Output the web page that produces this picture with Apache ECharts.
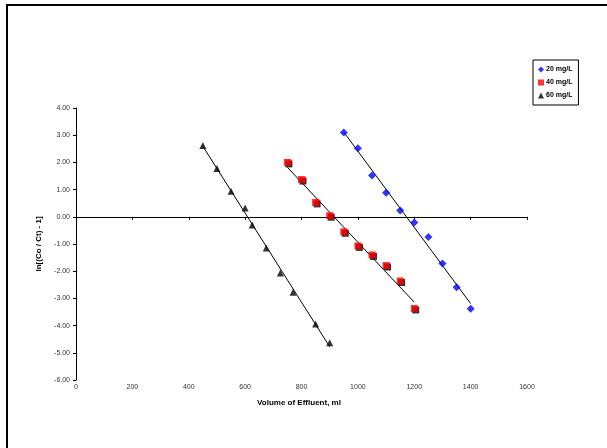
<!DOCTYPE html>
<html>
<head>
<meta charset="utf-8">
<script src="https://cdn.jsdelivr.net/npm/echarts@6/dist/echarts.min.js"></script>
<style>
  html, body { margin: 0; padding: 0; background: #fff; }
  #chart { width: 607px; height: 448px; }
</style>
</head>
<body>
<div id="chart"></div>
<script>
// values
var xTicks = [0, 200, 400, 600, 800, 1000, 1200, 1400, 1600];
var yTicks = [-6, -5, -4, -3, -2, -1, 0, 1, 2, 3, 4];

var vol20 = [950, 1000, 1050, 1100, 1150, 1200, 1250, 1300, 1350, 1400];
var ln20 = [3.10, 2.52, 1.52, 0.88, 0.23, -0.21, -0.74, -1.72, -2.59, -3.38];

var vol40 = [750, 800, 850, 900, 950, 1000, 1050, 1100, 1150, 1200];
var ln40 = [2.00, 1.37, 0.53, 0.04, -0.55, -1.07, -1.40, -1.79, -2.36, -3.37];

var vol60 = [450, 500, 550, 600, 625, 675, 725, 770, 850, 900];
var ln60 = [2.62, 1.78, 0.94, 0.32, -0.30, -1.15, -2.07, -2.77, -3.94, -4.63];

function pairs(xs, ys) {
  return xs.map(function (x, i) { return [x, ys[i]]; });
}

// least squares trend line, drawn over the data's x range (like Excel)
function trend(xs, ys) {
  var n = xs.length, sx = 0, sy = 0, sxx = 0, sxy = 0;
  for (var i = 0; i < n; i++) {
    sx += xs[i]; sy += ys[i]; sxx += xs[i] * xs[i]; sxy += xs[i] * ys[i];
  }
  var b = (n * sxy - sx * sy) / (n * sxx - sx * sx);
  var a = (sy - b * sx) / n;
  var x0 = Math.min.apply(null, xs), x1 = Math.max.apply(null, xs);
  return [[x0, a + b * x0], [x1, a + b * x1]];
}

var fontFam = 'Liberation Sans, Arial, sans-serif';

function trendSeries(xs, ys) {
  return {
    type: 'line',
    data: trend(xs, ys),
    symbol: 'none',
    silent: true,
    lineStyle: { color: '#000', width: 1 },
    z: 1
  };
}

var chart = echarts.init(document.getElementById('chart'));
var option = {
  animation: false,
  grid: { left: 76, top: 108, width: 451, height: 272 },
  legend: {
    data: ['20 mg/L', '40 mg/L', '60 mg/L'],
    orient: 'vertical',
    left: 533,
    top: 60,
    padding: [6, 6, 6, 5],
    itemGap: 6,
    itemWidth: 6,
    itemHeight: 6,
    borderColor: '#000',
    borderWidth: 1,
    textStyle: { fontFamily: fontFam, fontSize: 7, fontWeight: 'bold', color: '#000', padding: [0, 0, 0, -3] }
  },
  xAxis: {
    type: 'value',
    min: 0,
    max: 1600,
    interval: 200,
    axisLine: { onZero: true, lineStyle: { color: '#000', width: 1 } },
    axisTick: { show: true, length: 3, lineStyle: { color: '#000' } },
    axisLabel: {
      fontFamily: fontFam, fontSize: 7, color: '#333', margin: 4,
      formatter: function (v) { return String(v); }
    },
    splitLine: { show: false }
  },
  yAxis: {
    type: 'value',
    min: -6,
    max: 4,
    interval: 1,
    name: 'ln[(Co / Ct) - 1]',
    nameLocation: 'middle',
    nameGap: 27,
    nameTextStyle: { fontFamily: fontFam, fontSize: 8, fontWeight: 'bold', color: '#000' },
    axisLine: { show: true, onZero: false, lineStyle: { color: '#000', width: 1 } },
    axisTick: { show: true, length: 3, lineStyle: { color: '#000' } },
    axisLabel: {
      fontFamily: fontFam, fontSize: 7, color: '#333', margin: 6,
      formatter: function (v) { return v.toFixed(2); }
    },
    splitLine: { show: false }
  },
  graphic: [
    {
      type: 'rect',
      shape: { x: 7, y: 5, width: 700, height: 600 },
      style: { fill: 'none', stroke: '#000', lineWidth: 2 },
      silent: true
    },
    {
      type: 'text',
      x: 299,
      y: 399,
      style: {
        text: 'Volume of Effluent, ml',
        font: 'bold 8px ' + fontFam,
        fill: '#000',
        textAlign: 'center'
      }
    }
  ],
  series: [
    trendSeries(vol20, ln20),
    trendSeries(vol40, ln40),
    trendSeries(vol60, ln60),
    {
      name: '20 mg/L',
      type: 'scatter',
      data: pairs(vol20, ln20),
      symbol: 'diamond',
      symbolSize: 8,
      itemStyle: { color: '#0000ff' },
      z: 3
    },
    {
      name: '40 mg/L',
      type: 'scatter',
      data: pairs(vol40, ln40),
      symbol: 'rect',
      symbolSize: 7,
      itemStyle: { color: '#ff0000', shadowColor: '#000', shadowOffsetX: 1.5, shadowOffsetY: 1.5, shadowBlur: 0 },
      z: 3
    },
    {
      name: '60 mg/L',
      type: 'scatter',
      data: pairs(vol60, ln60),
      symbol: 'triangle',
      symbolSize: 7,
      itemStyle: { color: '#000' },
      z: 3
    }
  ]
};
chart.setOption(option);
</script>
</body>
</html>
